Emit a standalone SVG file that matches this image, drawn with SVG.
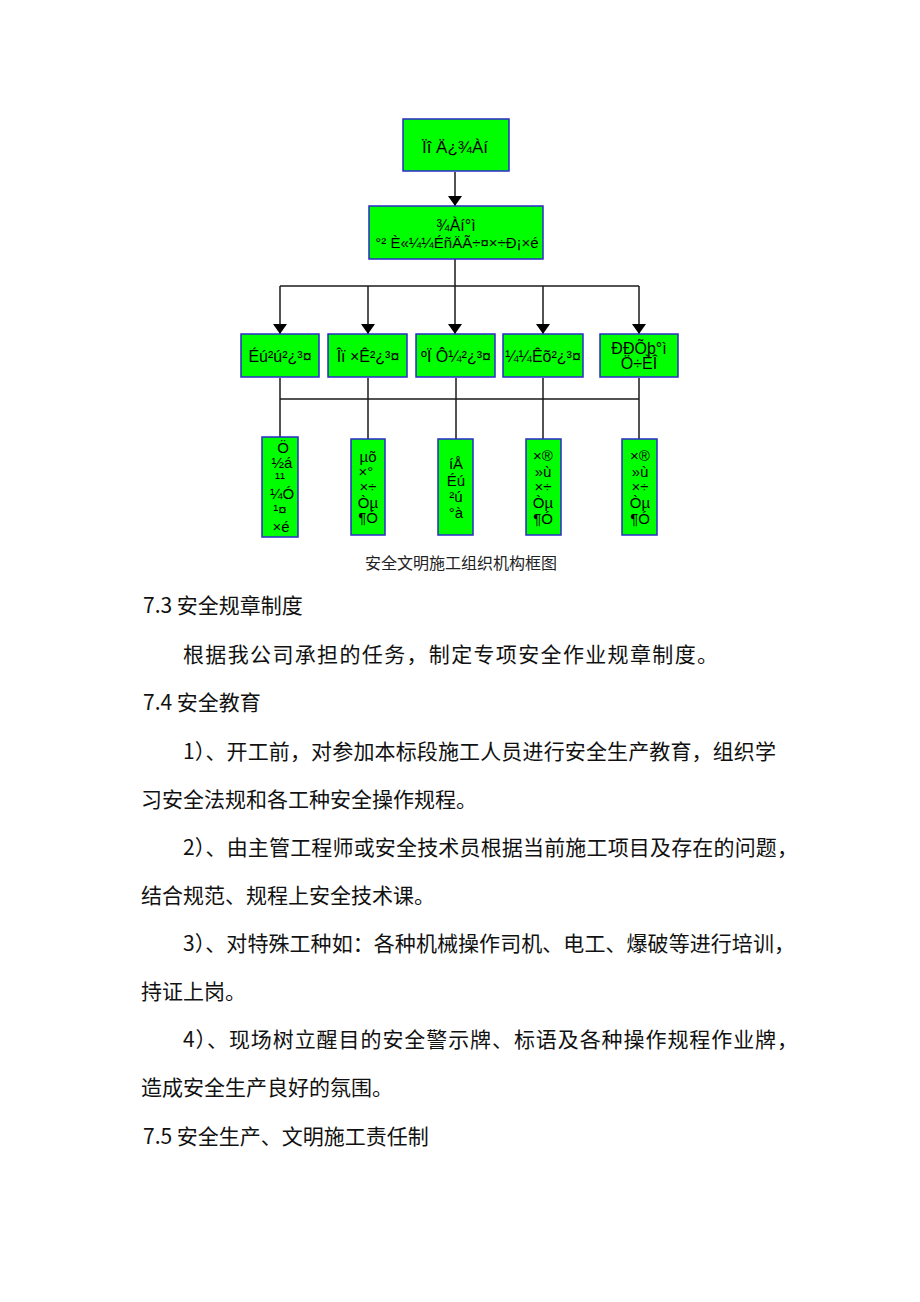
<svg xmlns="http://www.w3.org/2000/svg" width="920" height="1302" viewBox="0 0 920 1302">
<defs>
<style>
.box{fill:#00FF00;stroke:#2B2BC8;stroke-width:1.5}
.bt{font-family:"Liberation Sans",Arial,sans-serif;font-size:16px;fill:#000;text-anchor:middle}
.b4{font-family:"Liberation Sans",Arial,sans-serif;font-size:15px;fill:#000;text-anchor:middle}
.ln{stroke:#1a1a1a;stroke-width:1.5;fill:none}
.cap{font-family:"Noto Sans CJK SC",sans-serif;font-size:16px;fill:#222}
.body{font-family:"Noto Sans CJK SC",sans-serif;font-size:21px;fill:#111}
</style>
<marker id="arr" viewBox="0 0 10 14" refX="10" refY="7" markerWidth="10" markerHeight="14" orient="auto" markerUnits="userSpaceOnUse">
<path d="M0,0 L10,7 L0,14 Z" fill="#000"/>
</marker>
</defs>
<rect width="920" height="1302" fill="#fff"/>

<g id="connectors">
<line class="ln" x1="455" y1="172" x2="455" y2="206" marker-end="url(#arr)"/>
<line class="ln" x1="455" y1="259" x2="455" y2="334" marker-end="url(#arr)"/>
<line class="ln" x1="280" y1="286" x2="639" y2="286"/>
<line class="ln" x1="280" y1="286" x2="280" y2="334" marker-end="url(#arr)"/>
<line class="ln" x1="368" y1="286" x2="368" y2="334" marker-end="url(#arr)"/>
<line class="ln" x1="543" y1="286" x2="543" y2="334" marker-end="url(#arr)"/>
<line class="ln" x1="639" y1="286" x2="639" y2="334" marker-end="url(#arr)"/>
<line class="ln" x1="280" y1="399" x2="639" y2="399"/>
<line class="ln" x1="280" y1="378" x2="280" y2="437"/>
<line class="ln" x1="368" y1="378" x2="368" y2="439"/>
<line class="ln" x1="456" y1="378" x2="456" y2="439"/>
<line class="ln" x1="543" y1="378" x2="543" y2="439"/>
<line class="ln" x1="639" y1="378" x2="639" y2="439"/>
</g>

<g id="n1"><rect class="box" x="403" y="119" width="106" height="52"/><text class="bt" x="455" y="153" style="font-size:17px">Ïî Ä¿¾­Àí</text></g>
<g id="n2"><rect class="box" x="369" y="206" width="174" height="53"/><text class="bt" x="456" y="231">¾­Àí°ì</text><text class="bt" x="457" y="248" style="font-size:15px">°² È«¼¼ÉñÄÃ÷¤×÷Ð¡×é</text></g>

<g id="n3"><rect class="box" x="241" y="334" width="78" height="43"/><text class="bt" x="280" y="362">Éú²ú²¿³¤</text></g>
<g id="n4"><rect class="box" x="328" y="334" width="79" height="43"/><text class="bt" x="368" y="362">Îï ×Ê²¿³¤</text></g>
<g id="n5"><rect class="box" x="416" y="334" width="79" height="43"/><text class="bt" x="456" y="362">ºÏ Ô¼²¿³¤</text></g>
<g id="n6"><rect class="box" x="503" y="334" width="80" height="43"/><text class="bt" x="543" y="362">¼¼Êõ²¿³¤</text></g>
<g id="n7"><rect class="box" x="600" y="334" width="78" height="43"/><text class="bt" x="639" y="354">ÐÐÕþ°ì</text><text class="bt" x="639" y="369">Ö÷ÈÎ</text></g>

<g id="n8"><rect class="box" x="262" y="437" width="36" height="100"/>
<text class="b4" x="283" y="453">Ö</text><text class="b4" x="282" y="468">½á</text><text class="b4" x="280" y="483">¹¹</text><text class="b4" x="282" y="499">¼Ó</text><text class="b4" x="280" y="515">¹¤</text><text class="b4" x="281" y="532">×é</text></g>
<g id="n9"><rect class="box" x="351" y="439" width="34" height="96"/>
<text class="b4" x="368" y="462">µõ</text><text class="b4" x="366" y="477">×°</text><text class="b4" x="368" y="492">×÷</text><text class="b4" x="368" y="508">Òµ</text><text class="b4" x="368" y="523">¶Ó</text></g>
<g id="n10"><rect class="box" x="438" y="439" width="35" height="96"/>
<text class="b4" x="456" y="469">íÅ</text><text class="b4" x="456" y="486">Éú</text><text class="b4" x="456" y="502">²ú</text><text class="b4" x="456" y="518">°à</text></g>
<g id="n11"><rect class="box" x="526" y="439" width="35" height="96"/>
<text class="b4" x="543" y="461">×®</text><text class="b4" x="543" y="477">»ù</text><text class="b4" x="543" y="492">×÷</text><text class="b4" x="543" y="508">Òµ</text><text class="b4" x="543" y="524">¶Ó</text></g>
<g id="n12"><rect class="box" x="622" y="439" width="35" height="96"/>
<text class="b4" x="640" y="461">×®</text><text class="b4" x="640" y="477">»ù</text><text class="b4" x="640" y="492">×÷</text><text class="b4" x="640" y="508">Òµ</text><text class="b4" x="640" y="524">¶Ó</text></g>

<text class="cap" x="365" y="569">安全文明施工组织机构框图</text>

<g id="body">
<text class="body" x="143" y="613">7.3 安全规章制度</text>
<text class="body" x="183" y="662" textLength="535" lengthAdjust="spacing">根据我公司承担的任务，制定专项安全作业规章制度。</text>
<text class="body" x="143" y="710">7.4 安全教育</text>
<text class="body" x="183" y="759" textLength="593" lengthAdjust="spacing">1）、开工前，对参加本标段施工人员进行安全生产教育，组织学</text>
<text class="body" x="141" y="807">习安全法规和各工种安全操作规程。</text>
<text class="body" x="183" y="855" textLength="615" lengthAdjust="spacing">2）、由主管工程师或安全技术员根据当前施工项目及存在的问题，</text>
<text class="body" x="141" y="903">结合规范、规程上安全技术课。</text>
<text class="body" x="183" y="951" textLength="612" lengthAdjust="spacing">3）、对特殊工种如：各种机械操作司机、电工、爆破等进行培训，</text>
<text class="body" x="141" y="999">持证上岗。</text>
<text class="body" x="183" y="1047" textLength="615" lengthAdjust="spacing">4）、现场树立醒目的安全警示牌、标语及各种操作规程作业牌，</text>
<text class="body" x="141" y="1095">造成安全生产良好的氛围。</text>
<text class="body" x="143" y="1144">7.5 安全生产、文明施工责任制</text>
</g>
</svg>
